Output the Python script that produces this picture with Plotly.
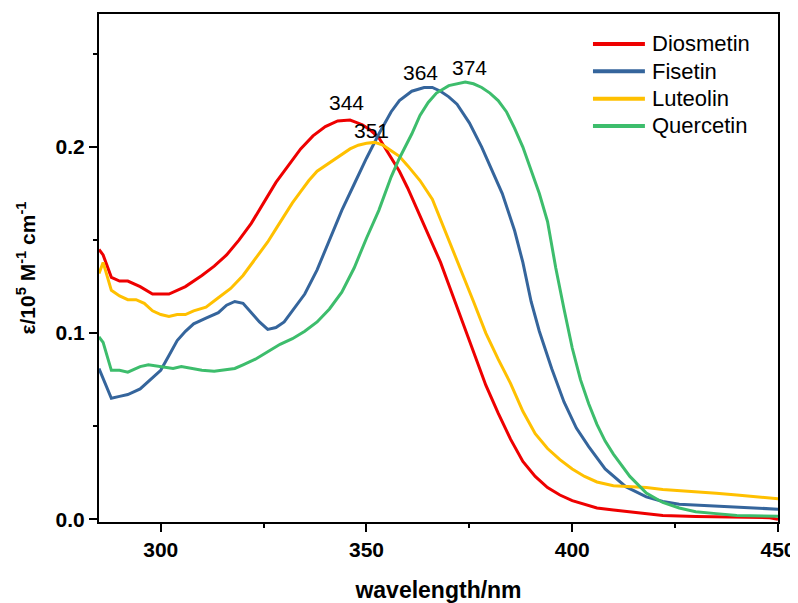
import plotly.graph_objects as go

# wavelength (nm) and molar absorptivity (1e5 M^-1 cm^-1)
wl_dio = [285, 286, 288, 290, 292, 295, 298, 302, 306, 310, 313, 316, 319, 322, 325, 328,
          331, 334, 337, 340, 343, 346, 349, 351, 353, 355, 358, 360, 362, 365, 368, 370,
          373, 376, 379, 382, 385, 388, 391, 394, 397, 400, 403, 406, 410, 414, 418, 422,
          430, 440, 448, 450]
eps_dio = [0.145, 0.142, 0.130, 0.128, 0.128, 0.125, 0.121, 0.121, 0.125, 0.131, 0.136, 0.142,
           0.150, 0.159, 0.170, 0.181, 0.190, 0.199, 0.206, 0.211, 0.214, 0.2145, 0.212, 0.209,
           0.205, 0.198, 0.187, 0.178, 0.168, 0.153, 0.138, 0.126, 0.108, 0.091, 0.072, 0.057,
           0.043, 0.031, 0.023, 0.017, 0.013, 0.010, 0.008, 0.006, 0.005, 0.004, 0.003, 0.002,
           0.0015, 0.001, 0.0008, 0.0]

wl_fis = [285, 288, 290, 292, 295, 298, 300, 302, 304, 306, 308, 311, 314, 316, 318, 320,
          322, 324, 326, 328, 330, 332, 335, 338, 341, 344, 347, 350, 353, 356, 358, 361,
          364, 366, 368, 370, 372, 375, 378, 381, 383, 386, 388, 390, 392, 395, 398, 401,
          404, 408, 413, 418, 422, 426, 430, 440, 445, 450]
eps_fis = [0.081, 0.065, 0.066, 0.067, 0.070, 0.076, 0.080, 0.088, 0.096, 0.101, 0.105, 0.108,
           0.111, 0.115, 0.117, 0.116, 0.111, 0.106, 0.102, 0.103, 0.106, 0.112, 0.121, 0.134,
           0.150, 0.166, 0.180, 0.194, 0.207, 0.219, 0.225, 0.230, 0.232, 0.232, 0.230, 0.227,
           0.223, 0.213, 0.200, 0.185, 0.175, 0.155, 0.138, 0.117, 0.101, 0.081, 0.063, 0.049,
           0.039, 0.027, 0.0175, 0.012, 0.0095, 0.008, 0.0075, 0.0065, 0.006, 0.0054]

wl_lut = [285, 286, 288, 290, 292, 294, 296, 298, 300, 302, 304, 306, 308, 311, 314, 317,
          320, 322, 324, 326, 328, 330, 332, 334, 336, 338, 340, 342, 344, 346, 348, 350,
          352, 354, 356, 358, 360, 363, 366, 368, 370, 373, 376, 379, 382, 385, 388, 391,
          394, 397, 400, 403, 406, 410, 414, 418, 422, 426, 430, 435, 440, 445, 450]
eps_lut = [0.132, 0.138, 0.123, 0.120, 0.118, 0.118, 0.116, 0.112, 0.110, 0.109, 0.110, 0.110,
           0.112, 0.114, 0.119, 0.124, 0.131, 0.137, 0.143, 0.149, 0.156, 0.163, 0.170, 0.176,
           0.182, 0.187, 0.190, 0.193, 0.196, 0.199, 0.201, 0.202, 0.2025, 0.201, 0.198, 0.195,
           0.190, 0.182, 0.172, 0.161, 0.151, 0.134, 0.117, 0.100, 0.086, 0.073, 0.058, 0.046,
           0.038, 0.032, 0.027, 0.023, 0.020, 0.018, 0.0175, 0.017, 0.016, 0.0155, 0.015, 0.014,
           0.013, 0.012, 0.011]

wl_que = [285, 286, 288, 290, 292, 295, 297, 300, 303, 305, 308, 310, 313, 315, 318, 320,
          323, 326, 329, 332, 335, 338, 341, 344, 347, 350, 353, 356, 358, 361, 363, 365,
          367, 370, 372, 374, 376, 378, 380, 382, 384, 386, 388, 390, 392, 394, 396, 398,
          400, 402, 404, 406, 408, 410, 414, 418, 422, 426, 430, 435, 440, 450]
eps_que = [0.098, 0.095, 0.080, 0.080, 0.079, 0.082, 0.083, 0.082, 0.081, 0.082, 0.081, 0.080,
           0.0795, 0.080, 0.081, 0.083, 0.086, 0.090, 0.094, 0.097, 0.101, 0.106, 0.113, 0.122,
           0.135, 0.151, 0.166, 0.184, 0.194, 0.207, 0.217, 0.224, 0.229, 0.233, 0.234, 0.235,
           0.234, 0.232, 0.229, 0.225, 0.219, 0.210, 0.200, 0.188, 0.175, 0.160, 0.135, 0.113,
           0.092, 0.075, 0.062, 0.051, 0.042, 0.035, 0.023, 0.014, 0.009, 0.006, 0.004, 0.003,
           0.002, 0.0016]

names = ["Diosmetin", "Fisetin", "Luteolin", "Quercetin"]
colors = ["#ee0000", "#35659c", "#ffc000", "#3dbd6c"]

# peak labels
peak_text = ["344", "351", "364", "374"]
peak_x = [345.2, 351.3, 363.2, 375.1]
peak_y = [0.224, 0.209, 0.240, 0.2425]

FONT = "Liberation Sans, Arial"

fig = go.Figure()
series = [(wl_dio, eps_dio), (wl_fis, eps_fis), (wl_lut, eps_lut), (wl_que, eps_que)]
for (x, y), name, c in zip(series, names, colors):
    fig.add_scatter(x=x, y=y, mode="lines", name=name, showlegend=False,
                    line=dict(color=c, width=3))

for t, x, y in zip(peak_text, peak_x, peak_y):
    fig.add_annotation(x=x, y=y, text=t, showarrow=False,
                       font=dict(family=FONT, size=21, color="black"))

# legend drawn by hand (plotly's own legend can't match the tight row spacing)
leg_top, leg_step = 0.941, 0.0538
for i, (name, c) in enumerate(zip(names, colors)):
    yy = leg_top - i * leg_step
    fig.add_shape(type="line", xref="paper", yref="paper", x0=0.7275, x1=0.804, y0=yy, y1=yy,
                  line=dict(color=c, width=4))
    fig.add_annotation(xref="paper", yref="paper", x=0.8115, y=yy, text=name,
                       xanchor="left", yanchor="middle", showarrow=False,
                       font=dict(family=FONT, size=22, color="black"))

axis_common = dict(showline=True, linecolor="black", linewidth=2, mirror=True,
                   ticks="outside", ticklen=8, tickwidth=1.5, tickcolor="black",
                   showgrid=False, zeroline=False, automargin=False,
                   tickfont=dict(family=FONT, size=21, color="black", weight="bold"))

fig.update_xaxes(range=[285, 450], tickvals=[300, 350, 400, 450],
                 minor=dict(tickvals=[325, 375, 425], ticks="outside", ticklen=4,
                            tickcolor="black", tickwidth=1.5),
                 title=dict(text="<b>wavelength/nm</b>", standoff=22,
                            font=dict(family=FONT, size=23, color="black")),
                 **axis_common)
fig.update_yaxes(range=[-0.0015, 0.2715], tickvals=[0.0, 0.1, 0.2], ticktext=["0.0", "0.1", "0.2"],
                 minor=dict(tickvals=[0.05, 0.15, 0.25], ticks="outside", ticklen=4,
                            tickcolor="black", tickwidth=1.5),
                 title=dict(text="<b>ε/10<sup>5</sup> M<sup>-1</sup> cm<sup>-1</sup></b>", standoff=14,
                            font=dict(family=FONT, size=21, color="black")),
                 **axis_common)

# the page adds an 8px body margin, so the figure is 8px smaller and margins shifted
fig.update_layout(
    width=790, height=595,
    margin=dict(l=91, r=20, t=6, b=81),
    plot_bgcolor="white", paper_bgcolor="white",
)

fig.write_html("out.html")
